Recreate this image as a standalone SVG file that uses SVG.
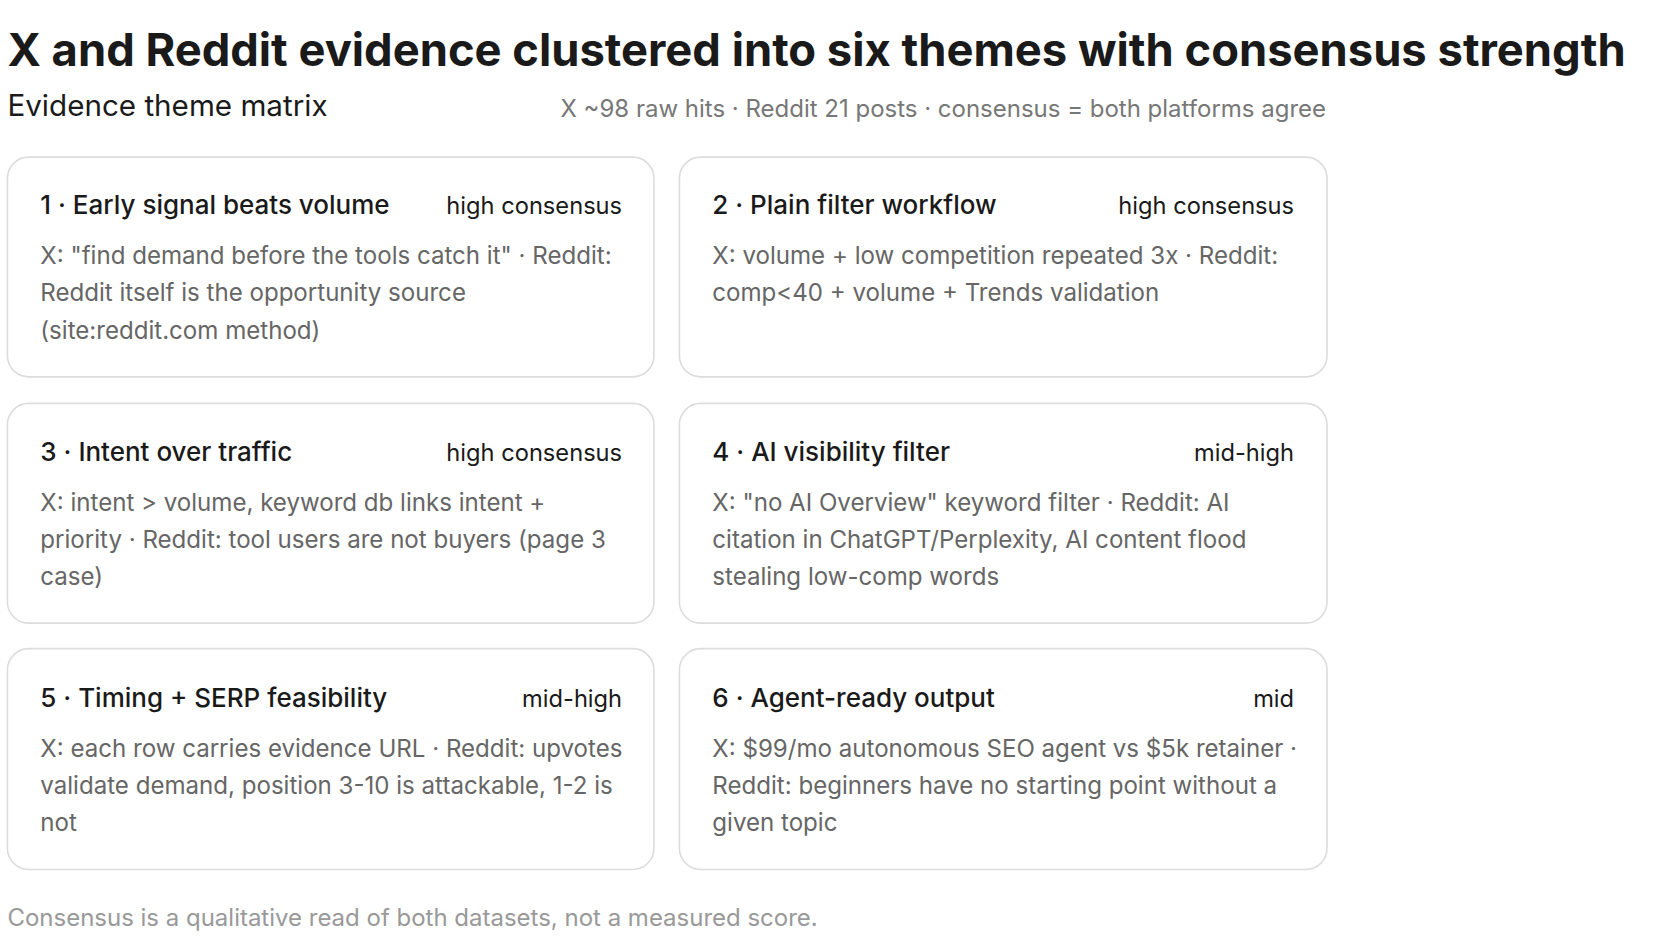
<svg xmlns="http://www.w3.org/2000/svg" width="1664" height="950" viewBox="0 0 1664 950">
<style>
text{font-family:Inter,"Liberation Sans",sans-serif}
.title{font-size:42.7px;font-weight:700;fill:#1a1a1a}
.sub{font-size:27.9px;fill:#1a1a1a}
.meta{font-size:22.6px;fill:#777}
.card{fill:#fff;stroke:#dcdcdc;stroke-width:1.5}
.ct{font-size:24.5px;fill:#1a1a1a;font-weight:500}
.cons{font-size:22.3px;fill:#1a1a1a;text-anchor:end}
.body{font-size:22.7px;fill:#666}
.foot{font-size:22.6px;fill:#999}
</style>
<rect width="1664" height="950" fill="#fff"/>
<g transform="scale(1.0616)">
<text class="title" x="7" y="62">X and Reddit evidence clustered into six themes with consensus strength</text>
<text class="sub" x="7" y="109">Evidence theme matrix</text>
<text class="meta" x="528" y="110">X ~98 raw hits · Reddit 21 posts · consensus = both platforms agree</text>
<g id="card1"><rect class="card" x="7" y="148" width="609" height="207" rx="20"/>
<text class="ct" x="38" y="202">1 · Early signal beats volume</text><text class="cons" x="586" y="202">high consensus</text>
<text class="body" x="38" y="249">X: "find demand before the tools catch it" · Reddit:</text>
<text class="body" x="38" y="284">Reddit itself is the opportunity source</text>
<text class="body" x="38" y="319">(site:reddit.com method)</text></g>
<g id="card2"><rect class="card" x="640" y="148" width="610" height="207" rx="20"/>
<text class="ct" x="671" y="202">2 · Plain filter workflow</text><text class="cons" x="1219" y="202">high consensus</text>
<text class="body" x="671" y="249">X: volume + low competition repeated 3x · Reddit:</text>
<text class="body" x="671" y="284">comp&lt;40 + volume + Trends validation</text></g>
<g id="card3"><rect class="card" x="7" y="380" width="609" height="207" rx="20"/>
<text class="ct" x="38" y="434">3 · Intent over traffic</text><text class="cons" x="586" y="434">high consensus</text>
<text class="body" x="38" y="481">X: intent &gt; volume, keyword db links intent +</text>
<text class="body" x="38" y="516">priority · Reddit: tool users are not buyers (page 3</text>
<text class="body" x="38" y="551">case)</text></g>
<g id="card4"><rect class="card" x="640" y="380" width="610" height="207" rx="20"/>
<text class="ct" x="671" y="434">4 · AI visibility filter</text><text class="cons" x="1219" y="434">mid-high</text>
<text class="body" x="671" y="481">X: "no AI Overview" keyword filter · Reddit: AI</text>
<text class="body" x="671" y="516">citation in ChatGPT/Perplexity, AI content flood</text>
<text class="body" x="671" y="551">stealing low-comp words</text></g>
<g id="card5"><rect class="card" x="7" y="611" width="609" height="208" rx="20"/>
<text class="ct" x="38" y="666">5 · Timing + SERP feasibility</text><text class="cons" x="586" y="666">mid-high</text>
<text class="body" x="38" y="713">X: each row carries evidence URL · Reddit: upvotes</text>
<text class="body" x="38" y="748">validate demand, position 3-10 is attackable, 1-2 is</text>
<text class="body" x="38" y="783">not</text></g>
<g id="card6"><rect class="card" x="640" y="611" width="610" height="208" rx="20"/>
<text class="ct" x="671" y="666">6 · Agent-ready output</text><text class="cons" x="1219" y="666">mid</text>
<text class="body" x="671" y="713">X: $99/mo autonomous SEO agent vs $5k retainer ·</text>
<text class="body" x="671" y="748">Reddit: beginners have no starting point without a</text>
<text class="body" x="671" y="783">given topic</text></g>
<g id="connectors"/>
<text class="foot" x="7" y="872">Consensus is a qualitative read of both datasets, not a measured score.</text>
</g>
</svg>
